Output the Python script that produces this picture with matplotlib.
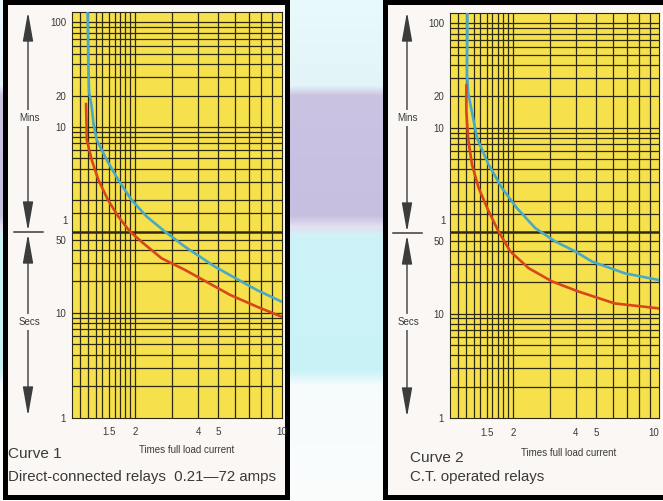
import numpy as np
import matplotlib
matplotlib.use("Agg")
import matplotlib.pyplot as plt
from matplotlib.patches import Rectangle

plt.rcParams['font.family'] = ['Liberation Sans', 'DejaVu Sans']

# --- DATA (times in seconds, current in multiples of full load) ---
c1_blue_x = [1.19, 1.20, 1.21, 1.245, 1.27, 1.315, 1.468, 1.667, 1.93, 2.275, 2.78, 3.46, 4.81, 5.67, 7.6, 10]
c1_blue_t = [7600, 2500, 1300, 940, 640, 453, 291, 187, 120, 83.5, 60, 43, 27.7, 23, 16.6, 12.8]
c1_red_x = [1.17, 1.175, 1.18, 1.245, 1.34, 1.49, 1.667, 1.895, 2.19, 2.68, 3.46, 4.81, 5.67, 7.6, 10]
c1_red_t = [1000, 700, 453, 291, 187, 120, 83.5, 60, 46.5, 33.3, 25.8, 17.9, 14.9, 11.5, 9.2]

c2_blue_x = [1.215, 1.21, 1.225, 1.29, 1.35, 1.535, 1.777, 2.095, 2.56, 3.19, 3.97, 4.77, 6.84, 10]
c2_blue_t = [7600, 2000, 1300, 764, 478, 266, 159, 102, 65.8, 49, 39.4, 31.5, 24.3, 20.9]
c2_red_x = [1.20, 1.20, 1.225, 1.278, 1.375, 1.535, 1.71, 1.945, 2.38, 3.08, 4.1, 6.13, 10]
c2_red_t = [1540, 886, 470, 266, 159, 95, 61.2, 39.4, 27.2, 20.3, 16.3, 12.5, 11.2]

x_ticks = [1.5, 2, 4, 5, 10]
x_tick_labels = ['1.5', '2', '4', '5', '10']
x_grid = [1.1, 1.2, 1.3, 1.4, 1.5, 1.6, 1.7, 1.8, 1.9, 2, 3, 4, 5, 6, 7, 8, 9]
y_ticks = [1, 10, 50, 600, 1200, 6000]
y_tick_labels = ['1', '10', '50', '10', '20', '100']
y_grid = ([2, 3, 4, 5, 6, 7, 8, 9, 10, 20, 30, 40, 50, 90]
          + [m * 60 for m in range(2, 11)]
          + [m * 60 for m in range(20, 101, 10)])

# --- COLOURS ---
YELLOW = '#f6e04c'
GRID = '#2e2a12'
BLUE = '#4aa9c6'
RED = '#d8461c'
INK = '#3a3a3a'
PANEL = '#faf7f4'

W, H = 663, 501
fig = plt.figure(figsize=(W / 100, H / 100), dpi=100)

# background in pixel coordinates
bg = fig.add_axes([0, 0, 1, 1], zorder=-10)
bg.set_xlim(0, W)
bg.set_ylim(H, 0)
bg.axis('off')
grad = np.ones((H, 1, 3))
stops = [(0, '#e9fafc'), (85, '#e3f4f8'), (95, '#cbc3e2'), (215, '#c6bfe0'),
         (226, '#e4e0f0'), (236, '#cdf3f8'), (370, '#c9f2f7'), (385, '#f6fbfc'), (H, '#fbfdfd')]
ys = np.arange(H)
for k in range(3):
    vals = [matplotlib.colors.to_rgb(c)[k] for _, c in stops]
    grad[:, 0, k] = np.interp(ys, [s for s, _ in stops], vals)
bg.imshow(grad, extent=(0, W, H, 0), aspect='auto', zorder=0)

# the two white panels with heavy black borders
bg.add_patch(Rectangle((5, 1.5), 282, 495, facecolor=PANEL, edgecolor='black', lw=3.6, zorder=1))
bg.add_patch(Rectangle((384.5, 1.5), 300, 495, facecolor=PANEL, edgecolor='black', lw=3.6, zorder=1))


def side_scale(xc, y_top, y_mid, y_bot, y_mins, y_secs):
    arrow = dict(arrowstyle='<|-|>,head_length=1.8,head_width=0.32', color='#3c3c3c',
                 lw=1.0, shrinkA=0, shrinkB=0, mutation_scale=10)
    bg.annotate('', xy=(xc, y_top), xytext=(xc, y_mid - 1), arrowprops=arrow, zorder=2)
    bg.annotate('', xy=(xc, y_mid + 2), xytext=(xc, y_bot), arrowprops=arrow, zorder=2)
    bg.plot([xc - 14, xc + 15], [y_mid, y_mid], color='#3c3c3c', lw=1.1, zorder=3)
    box = dict(facecolor=PANEL, edgecolor='none', pad=2)
    bg.text(xc + 1, y_mins, 'Mins', fontsize=7, color=INK, ha='center', va='center', bbox=box, zorder=4)
    bg.text(xc + 1, y_secs, 'Secs', fontsize=7, color=INK, ha='center', va='center', bbox=box, zorder=4)


side_scale(28, 12, 232, 416, 118, 322)
side_scale(407, 12, 233, 417, 118, 322)


def relay_chart(rect, blue_x, blue_t, red_x, red_t, last_label_right=False):
    ax = fig.add_axes(rect)
    ax.set_facecolor(YELLOW)
    ax.set_xscale('log')
    ax.set_yscale('log')
    ax.set_xlim(1, 10)
    ax.set_ylim(1, 7600)
    for gx in x_grid:
        ax.axvline(gx, color=GRID, lw=0.9, zorder=1)
    for gy in y_grid:
        ax.axhline(gy, color=GRID, lw=0.9, zorder=1)
    ax.axhline(60, color=GRID, lw=1.8, zorder=1)
    ax.plot(blue_x, blue_t, color=BLUE, lw=1.9, zorder=3, solid_capstyle='round')
    ax.plot(red_x, red_t, color=RED, lw=1.9, zorder=3, solid_capstyle='round')
    ax.set_xticks(x_ticks)
    ax.set_xticklabels(x_tick_labels)
    ax.set_xticks([], minor=True)
    ax.set_yticks(y_ticks)
    ax.set_yticklabels(y_tick_labels)
    ax.set_yticks([], minor=True)
    ax.tick_params(axis='x', length=0, pad=7, labelsize=7, labelcolor=INK)
    ax.tick_params(axis='y', length=0, pad=4, labelsize=7, labelcolor=INK)
    if last_label_right:
        # keep the "10" inside the picture at the right edge
        ax.get_xticklabels()[-1].set_ha('right')
    ax.annotate('1', xy=(0, 60), xycoords=('axes fraction', 'data'), xytext=(-4, 11),
                textcoords='offset pixels', ha='right', va='center', fontsize=7, color=INK)
    for s in ax.spines.values():
        s.set_color(GRID)
        s.set_linewidth(0.8)
    return ax


relay_chart([71.7 / W, (H - 417.5) / H, 210 / W, 405.8 / H], c1_blue_x, c1_blue_t, c1_red_x, c1_red_t)
relay_chart([449.7 / W, (H - 418) / H, 209.6 / W, 405.3 / H], c2_blue_x, c2_blue_t, c2_red_x, c2_red_t,
            last_label_right=True)

# captions
bg.text(187, 450, 'Times full load current', fontsize=7, color=INK, ha='center', va='center', zorder=4)
bg.text(8, 454, 'Curve 1', fontsize=11, color=INK, ha='left', va='center', zorder=4)
bg.text(8, 477, 'Direct-connected relays  0.21\u201472 amps', fontsize=10.8, color=INK,
        ha='left', va='center', zorder=4)

bg.text(569, 453, 'Times full load current', fontsize=7, color=INK, ha='center', va='center', zorder=4)
bg.text(410, 458, 'Curve 2', fontsize=11, color=INK, ha='left', va='center', zorder=4)
bg.text(410, 477, 'C.T. operated relays', fontsize=10.8, color=INK, ha='left', va='center', zorder=4)

fig.savefig('out.png', dpi=100)
